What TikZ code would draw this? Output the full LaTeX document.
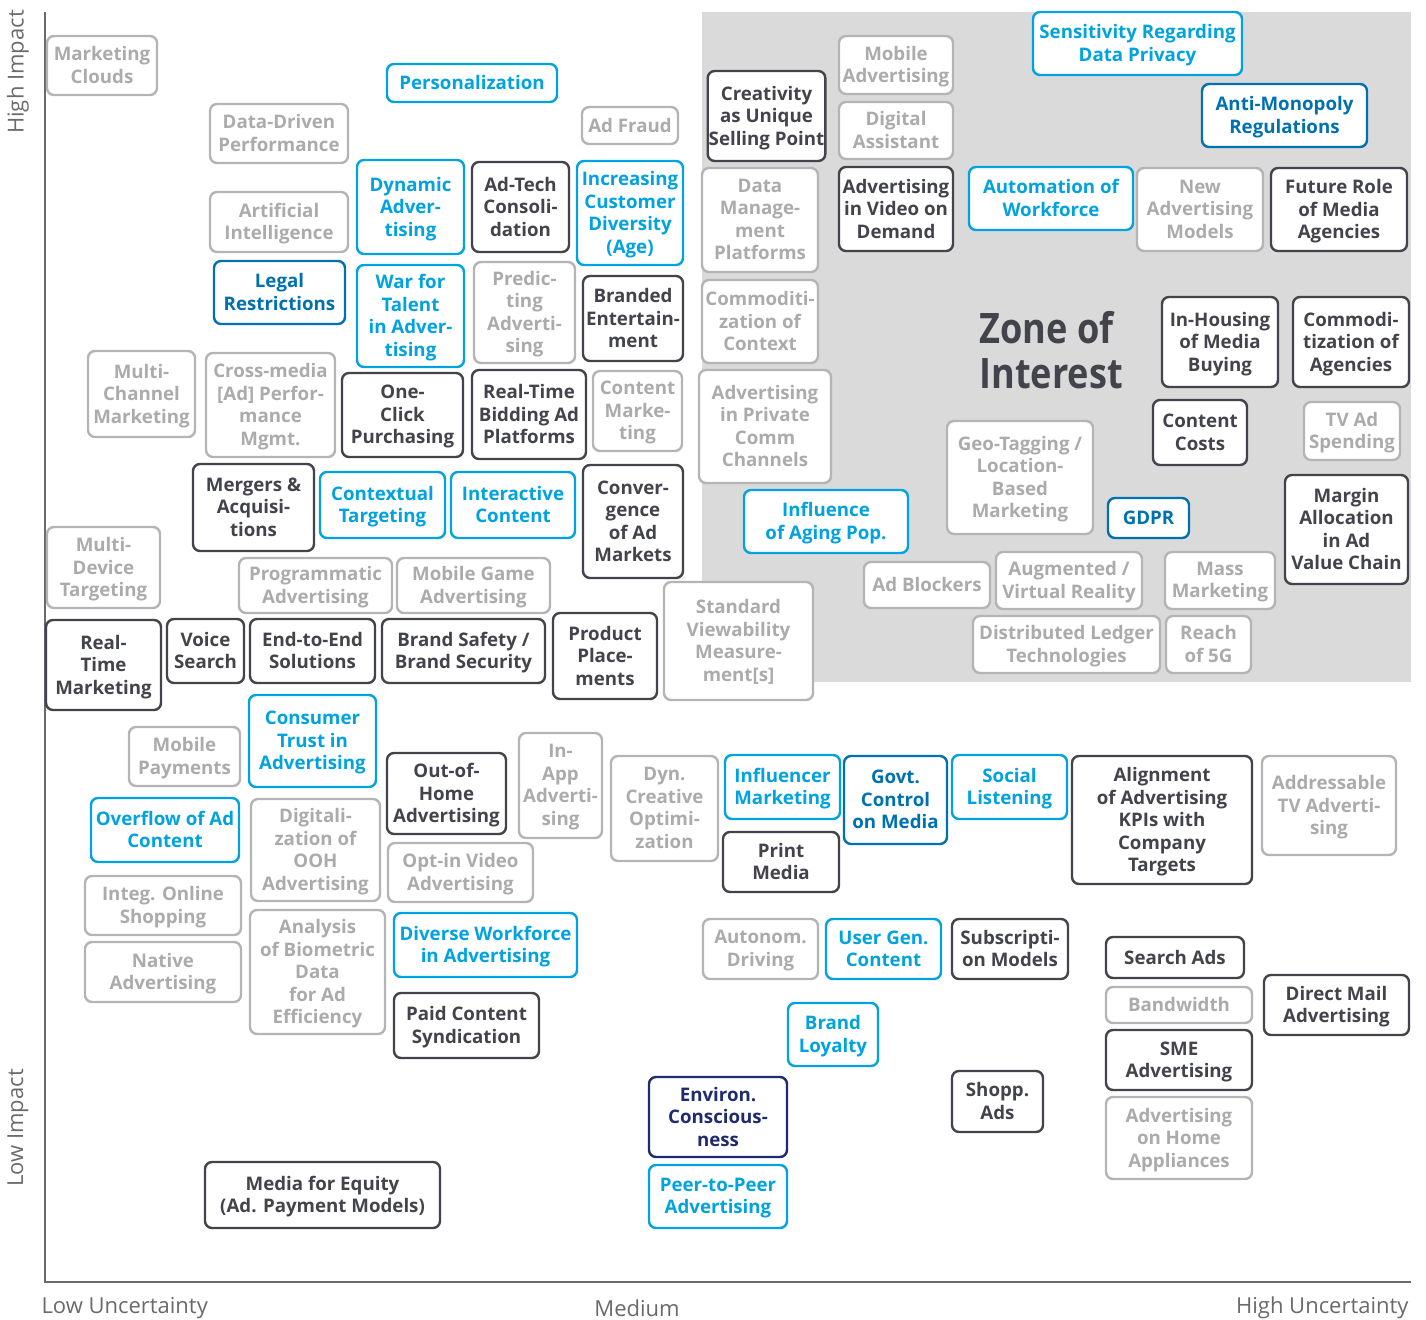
\documentclass[tikz,border=0pt]{standalone}
\usepackage{fontspec}
\setmainfont{Open Sans}
\newfontfamily\zonefont[FakeStretch=0.86]{Open Sans}
\definecolor{zonegray}{HTML}{DADADA}
\definecolor{boxgray}{HTML}{B4B4B4}
\definecolor{txtgray}{HTML}{ABABAB}
\definecolor{darkbox}{HTML}{43434B}
\definecolor{lightblue}{HTML}{00A3E0}
\definecolor{midblue}{HTML}{0071B0}
\definecolor{navyblue}{HTML}{1F2B6E}
\definecolor{axisgray}{HTML}{6A6A6A}

\begin{document}
\begin{tikzpicture}[x=1pt,y=-1pt,
  box/.style={draw,fill=white,rounded corners=7pt,line width=2.4pt,align=center,inner sep=1pt,
    text depth=1pt,font=\fontsize{18.7}{22.5}\selectfont\bfseries},
  gr/.style={box,draw=boxgray,text=txtgray},
  dk/.style={box,draw=darkbox,text=darkbox},
  bl/.style={box,draw=lightblue,text=lightblue},
  db/.style={box,draw=midblue,text=midblue},
  nv/.style={box,draw=navyblue,text=navyblue},
  sz/.style 2 args={minimum width=#1pt,minimum height=#2pt},
  axlabel/.style={text=axisgray,font=\fontsize{22}{26}\selectfont}]
\useasboundingbox (0,0) rectangle (1426,1319);
\fill[zonegray] (702,12) rectangle (1411,682);
\draw[axisgray,line width=1.5pt] (45,12) -- (45,1282) -- (1411,1282);
\node[axlabel,rotate=90] (highimpact) at (18,72) {High Impact};
\node[axlabel,rotate=90] (lowimpact) at (18,1128) {Low Impact};
\node[axlabel,anchor=west] (lowunc) at (38,1308) {Low Uncertainty};
\node[axlabel] (medium) at (637,1308) {Medium};
\node[axlabel,anchor=east] (highunc) at (1412,1308) {High Uncertainty};
\node[text=darkbox,anchor=west,align=left,font=\fontsize{42}{45}\zonefont\bfseries] (zone) at (976,350) {Zone of\\Interest};

\node[gr,sz={110}{59}] (mktclouds) at (102,65.5) {Marketing\\Clouds};
\node[gr,sz={138}{59}] (datadriven) at (279,133.5) {Data-Driven\\Performance};
\node[bl,sz={170}{38}] (personal) at (472,83) {Personalization};
\node[bl,sz={107}{94}] (dynadv) at (410.5,207) {Dynamic\\Adver-\\tising};
\node[gr,sz={138}{60}] (artintel) at (279,222) {Artificial\\Intelligence};
\node[db,sz={131}{63}] (legal) at (279.5,292.5) {Legal\\Restrictions};
\node[bl,sz={107}{102}] (wartalent) at (410.5,316) {War for\\Talent\\in Adver-\\tising};
\node[gr,sz={96}{37}] (adfraud) at (630,125.5) {Ad Fraud};
\node[dk,sz={97}{90}] (adtech) at (520.5,207) {Ad-Tech\\Consoli-\\dation};
\node[bl,sz={106}{104}] (diversity) at (630,213) {Increasing\\Customer\\Diversity\\(Age)};
\node[gr,sz={101}{101}] (predicting) at (524.5,312.5) {Predic-\\ting\\Adverti-\\sing};
\node[dk,sz={100}{85}] (branded) at (633,318.5) {Branded\\Entertain-\\ment};
\node[dk,sz={117}{90}] (creativity) at (766.5,116) {Creativity\\as Unique\\Selling Point};
\node[gr,sz={114}{58}] (mobileadv) at (896,65) {Mobile\\Advertising};
\node[gr,sz={114}{57}] (digassist) at (896,130.5) {Digital\\Assistant};
\node[gr,sz={116}{104}] (dmp) at (760,220) {Data\\Manage-\\ment\\Platforms};
\node[gr,sz={116}{83}] (commcontext) at (760,321.5) {Commoditi-\\zation of\\Context};
\node[dk,sz={114}{84}] (vod) at (896,209) {Advertising\\in Video on\\Demand};
\node[bl,sz={209}{63}] (privacy) at (1137.5,43.5) {Sensitivity Regarding\\Data Privacy};
\node[db,sz={165}{63}] (antimono) at (1284.5,115.5) {Anti-Monopoly\\Regulations};
\node[bl,sz={164}{63}] (automation) at (1051,198.5) {Automation of\\Workforce};
\node[gr,sz={126}{83}] (newmodels) at (1200,209.5) {New\\Advertising\\Models};
\node[dk,sz={136}{83}] (futurerole) at (1339,209.5) {Future Role\\of Media\\Agencies};
\node[dk,sz={116}{90}] (inhousing) at (1220,342) {In-Housing\\of Media\\Buying};
\node[dk,sz={116}{90}] (commagency) at (1351,342) {Commodi-\\tization of\\Agencies};
\node[dk,sz={94}{65}] (contentcost) at (1200,432.5) {Content\\Costs};
\node[gr,sz={96}{58}] (tvspend) at (1352,431) {TV Ad\\Spending};
\node[gr,sz={146}{113}] (geotag) at (1020,477.5) {Geo-Tagging /\\Location-\\Based\\Marketing};
\node[db,sz={81}{40}] (gdpr) at (1148.5,518) {GDPR};
\node[dk,sz={123}{109}] (margin) at (1346.5,529.5) {Margin\\Allocation\\in Ad\\Value Chain};
\node[gr,sz={126}{46}] (adblock) at (927,585) {Ad Blockers};
\node[gr,sz={146}{57}] (arvr) at (1069,580.5) {Augmented /\\Virtual Reality};
\node[gr,sz={110}{57}] (massmkt) at (1220,580.5) {Mass\\Marketing};
\node[gr,sz={187}{57}] (ledger) at (1066.5,644.5) {Distributed Ledger\\Technologies};
\node[gr,sz={85}{57}] (fiveg) at (1208.5,644.5) {Reach\\of 5G};
\node[gr,sz={107}{86}] (multichannel) at (141.5,394) {Multi-\\Channel\\Marketing};
\node[gr,sz={129}{104}] (crossmedia) at (270.5,405) {Cross-media\\{[Ad]} Perfor-\\mance\\Mgmt.};
\node[dk,sz={121}{84}] (oneclick) at (402.5,415) {One-\\Click\\Purchasing};
\node[dk,sz={114}{89}] (rtb) at (529,414.5) {Real-Time\\Bidding Ad\\Platforms};
\node[gr,sz={89}{80}] (contentmkt) at (637.5,411) {Content\\Marke-\\ting};
\node[dk,sz={121}{87}] (mergers) at (253.5,507.5) {Mergers \&\\Acquisi-\\tions};
\node[bl,sz={125}{66}] (contextual) at (382.5,505) {Contextual\\Targeting};
\node[bl,sz={124}{66}] (interactive) at (513,505) {Interactive\\Content};
\node[dk,sz={100}{113}] (convergence) at (633,521.5) {Conver-\\gence\\of Ad\\Markets};
\node[gr,sz={113}{81}] (multidevice) at (103.5,567.5) {Multi-\\Device\\Targeting};
\node[gr,sz={153}{55}] (programmatic) at (315.5,585.5) {Programmatic\\Advertising};
\node[gr,sz={153}{55}] (mobilegame) at (473.5,585.5) {Mobile Game\\Advertising};
\node[dk,sz={115}{90}] (rtmkt) at (103.5,665) {Real-\\Time\\Marketing};
\node[dk,sz={77}{64}] (voice) at (205.5,651) {Voice\\Search};
\node[dk,sz={125}{64}] (endtoend) at (312.5,651) {End-to-End\\Solutions};
\node[dk,sz={163}{64}] (brandsafety) at (463.5,651) {Brand Safety /\\Brand Security};
\node[dk,sz={104}{86}] (placement) at (605,656) {Product\\Place-\\ments};
\node[gr,sz={132}{113}] (privcomm) at (765,426.5) {Advertising\\in Private\\Comm\\Channels};
\node[bl,sz={164}{63}] (aging) at (826,521.5) {Influence\\of Aging Pop.};
\node[gr,sz={149}{118}] (viewability) at (738.5,641) {Standard\\Viewability\\Measure-\\ment[s]};
\node[gr,sz={111}{59}] (mobilepay) at (184.5,756.5) {Mobile\\Payments};
\node[bl,sz={127}{92}] (trust) at (312.5,741) {Consumer\\Trust in\\Advertising};
\node[bl,sz={148}{64}] (overflow) at (165,830) {Overflow of Ad\\Content};
\node[gr,sz={129}{102}] (oohdigital) at (315.5,850) {Digitali-\\zation of\\OOH\\Advertising};
\node[dk,sz={119}{81}] (ooh) at (446.5,793.5) {Out-of-\\Home\\Advertising};
\node[gr,sz={83}{105}] (inapp) at (560.5,785.5) {In-\\App\\Adverti-\\sing};
\node[gr,sz={145}{59}] (optin) at (460.5,872.5) {Opt-in Video\\Advertising};
\node[gr,sz={156}{59}] (integshop) at (163,905.5) {Integ. Online\\Shopping};
\node[gr,sz={156}{60}] (native) at (163,972) {Native\\Advertising};
\node[gr,sz={135}{124}] (biometric) at (317.5,972) {Analysis\\of Biometric\\Data\\for Ad\\Efficiency};
\node[bl,sz={183}{64}] (workforce) at (485.5,945) {Diverse Workforce\\in Advertising};
\node[dk,sz={145}{65}] (paidcontent) at (466.5,1025.5) {Paid Content\\Syndication};
\node[gr,sz={107}{105}] (dco) at (664.5,808.5) {Dyn.\\Creative\\Optimi-\\zation};
\node[bl,sz={115}{64}] (influencer) at (782.5,787) {Influencer\\Marketing};
\node[dk,sz={116}{60}] (print) at (781,862) {Print\\Media};
\node[db,sz={103}{88}] (govt) at (895.5,800) {Govt.\\Control\\on Media};
\node[bl,sz={115}{64}] (social) at (1009.5,787) {Social\\Listening};
\node[gr,sz={115}{60}] (autonom) at (760.5,949) {Autonom.\\Driving};
\node[bl,sz={115}{60}] (usergen) at (883.5,949) {User Gen.\\Content};
\node[dk,sz={116}{60}] (subscription) at (1010,949) {Subscripti-\\on Models};
\node[dk,sz={180}{128}] (alignment) at (1162,820) {Alignment\\of Advertising\\KPIs with\\Company\\Targets};
\node[gr,sz={134}{99}] (addressable) at (1329,805.5) {Addressable\\TV Adverti-\\sing};
\node[dk,sz={138}{41}] (searchads) at (1175,957.5) {Search Ads};
\node[gr,sz={146}{36}] (bandwidth) at (1179,1005) {Bandwidth};
\node[dk,sz={146}{60}] (sme) at (1179,1060) {SME\\Advertising};
\node[gr,sz={146}{82}] (homeappl) at (1179,1138) {Advertising\\on Home\\Appliances};
\node[dk,sz={145}{60}] (directmail) at (1336.5,1005) {Direct Mail\\Advertising};
\node[bl,sz={90}{63}] (loyalty) at (833,1034.5) {Brand\\Loyalty};
\node[nv,sz={138}{80}] (environ) at (718,1117) {Environ.\\Conscious-\\ness};
\node[dk,sz={91}{61}] (shoppads) at (997.5,1101.5) {Shopp.\\Ads};
\node[dk,sz={235}{66}] (equity) at (322.5,1195) {Media for Equity\\(Ad. Payment Models)};
\node[bl,sz={138}{63}] (p2p) at (718,1196.5) {Peer-to-Peer\\Advertising};
\end{tikzpicture}
\end{document}
